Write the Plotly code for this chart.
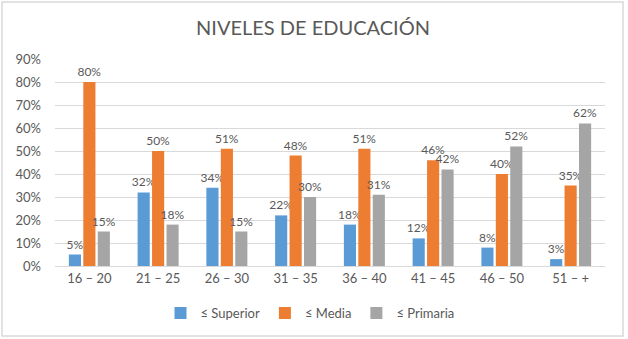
import plotly.graph_objects as go

categories = ["16 – 20", "21 – 25", "26 – 30", "31 – 35", "36 – 40", "41 – 45", "46 – 50", "51 – +"]
superior = [0.05, 0.32, 0.34, 0.22, 0.18, 0.12, 0.08, 0.03]
media = [0.80, 0.50, 0.51, 0.48, 0.51, 0.46, 0.40, 0.35]
primaria = [0.15, 0.18, 0.15, 0.30, 0.31, 0.42, 0.52, 0.62]
series_names = ["≤ Superior", "≤ Media", "≤ Primaria"]
colors = ["#5B9BD5", "#ED7D31", "#A5A5A5"]
y_ticks = [0, 0.1, 0.2, 0.3, 0.4, 0.5, 0.6, 0.7, 0.8, 0.9]

FONT = "Lato, 'Open Sans', sans-serif"
TXT = "#595959"

fig = go.Figure()
for name, vals, col in zip(series_names, [superior, media, primaria], colors):
    fig.add_trace(go.Bar(
        x=categories, y=vals, name=name,
        marker=dict(color=col, line=dict(width=0)),
        text=[f"{round(v*100)}%" for v in vals],
        textposition="outside", constraintext="none", cliponaxis=False,
        textfont=dict(family=FONT, size=12, color=TXT),
    ))

W, H = 628, 339
L, R, T, B = 55, 23, 59, 73
pw, ph = W - L - R, H - T - B

def px2paper_x(px):
    return (px - L) / pw

def px2paper_y(py):
    return (H - B - py) / ph

fig.update_layout(
    width=W, height=H,
    margin=dict(l=L, r=R, t=T, b=B, autoexpand=False),
    paper_bgcolor="white", plot_bgcolor="white",
    barmode="group", bargap=0.37, bargroupgap=0.16,
    font=dict(family=FONT, size=13, color=TXT),
    title=dict(text="NIVELES DE EDUCACIÓN", font=dict(family=FONT, size=20, color=TXT),
               x=313 / W, xanchor="center", y=1 - 28 / H, yanchor="middle"),
    xaxis=dict(showgrid=False, showline=True, linecolor="#D9D9D9", linewidth=1,
               ticks="", tickfont=dict(size=13, color=TXT), fixedrange=True),
    yaxis=dict(range=[0, 0.9], tickvals=y_ticks, tickformat=".0%", showgrid=True,
               gridcolor="#D9D9D9", gridwidth=1, zeroline=False, showline=False,
               ticks="", ticklabelstandoff=13, tickfont=dict(size=13, color=TXT)),
    legend=dict(orientation="h", x=px2paper_x(310), xanchor="center",
                y=px2paper_y(313), yanchor="middle",
                font=dict(size=13, color=TXT), traceorder="normal",
                bgcolor="rgba(0,0,0,0)"),
    showlegend=True,
    shapes=[dict(type="rect", xref="paper", yref="paper",
                 x0=px2paper_x(2), x1=px2paper_x(623),
                 y0=px2paper_y(336), y1=px2paper_y(2),
                 line=dict(color="#D9D9D9", width=1.5), fillcolor="rgba(0,0,0,0)",
                 layer="below")],
)

fig.write_html("out.html", config={"displayModeBar": False},
               post_script="document.body.style.margin='0';")
